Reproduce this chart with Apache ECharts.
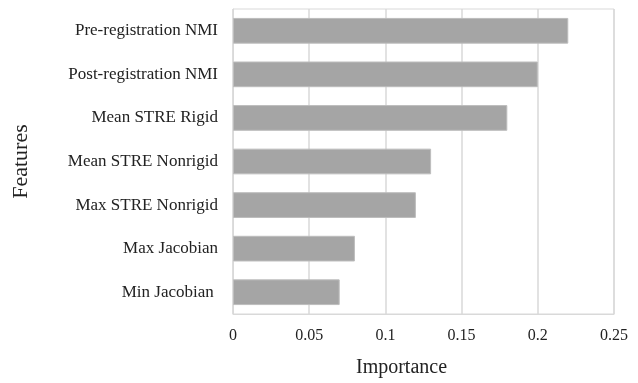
<!DOCTYPE html>
<html>
<head>
<meta charset="utf-8">
<script src="https://cdn.jsdelivr.net/npm/echarts@6/dist/echarts.min.js"></script>
<style>
  html, body { margin: 0; padding: 0; background: #fff; }
  #main { width: 638px; height: 383px; }
</style>
</head>
<body>
<div id="main"></div>
<script>
// features, top to bottom
var features = [
  "Pre-registration NMI",
  "Post-registration NMI",
  "Mean STRE Rigid",
  "Mean STRE Nonrigid",
  "Max STRE Nonrigid",
  "Max Jacobian",
  "Min Jacobian "
];
var importance = [0.22, 0.2, 0.18, 0.13, 0.12, 0.08, 0.07];
var xTicks = [0, 0.05, 0.1, 0.15, 0.2, 0.25];

var font = "'Liberation Serif', 'DejaVu Serif', serif";
var chart = echarts.init(document.getElementById("main"));
chart.setOption({
  animation: false,
  textStyle: { fontFamily: font },
  grid: {
    left: 233,
    right: 24,
    top: 9,
    bottom: 66,
    show: true,
    borderColor: "#d9d9d9",
    borderWidth: 1
  },
  xAxis: {
    type: "value",
    min: xTicks[0],
    max: xTicks[xTicks.length - 1],
    interval: 0.05,
    name: "Importance",
    nameLocation: "middle",
    nameGap: 44,
    nameTextStyle: { fontFamily: font, fontSize: 20, color: "#222", padding: [0, 44, 0, 0] },
    axisLine: { show: true, lineStyle: { color: "#d9d9d9" } },
    axisTick: { show: false },
    axisLabel: {
      fontFamily: font,
      fontSize: 16,
      color: "#222",
      margin: 14,
      formatter: function (v) { return String(+v.toFixed(2)); }
    },
    splitLine: { show: true, lineStyle: { color: "#d9d9d9", width: 1.5 } }
  },
  yAxis: {
    type: "category",
    inverse: true,
    data: features,
    name: "Features",
    nameLocation: "middle",
    nameRotate: 90,
    nameGap: 201,
    nameTextStyle: { fontFamily: font, fontSize: 22, color: "#222" },
    axisLine: { show: true, lineStyle: { color: "#d9d9d9" } },
    axisTick: { show: false },
    axisLabel: { fontFamily: font, fontSize: 17, color: "#222", margin: 15 }
  },
  series: [
    {
      type: "bar",
      data: importance,
      barCategoryGap: "41%",
      itemStyle: { color: "#a5a5a5", borderColor: "#bdbdbd", borderWidth: 1 }
    }
  ]
});
</script>
</body>
</html>
